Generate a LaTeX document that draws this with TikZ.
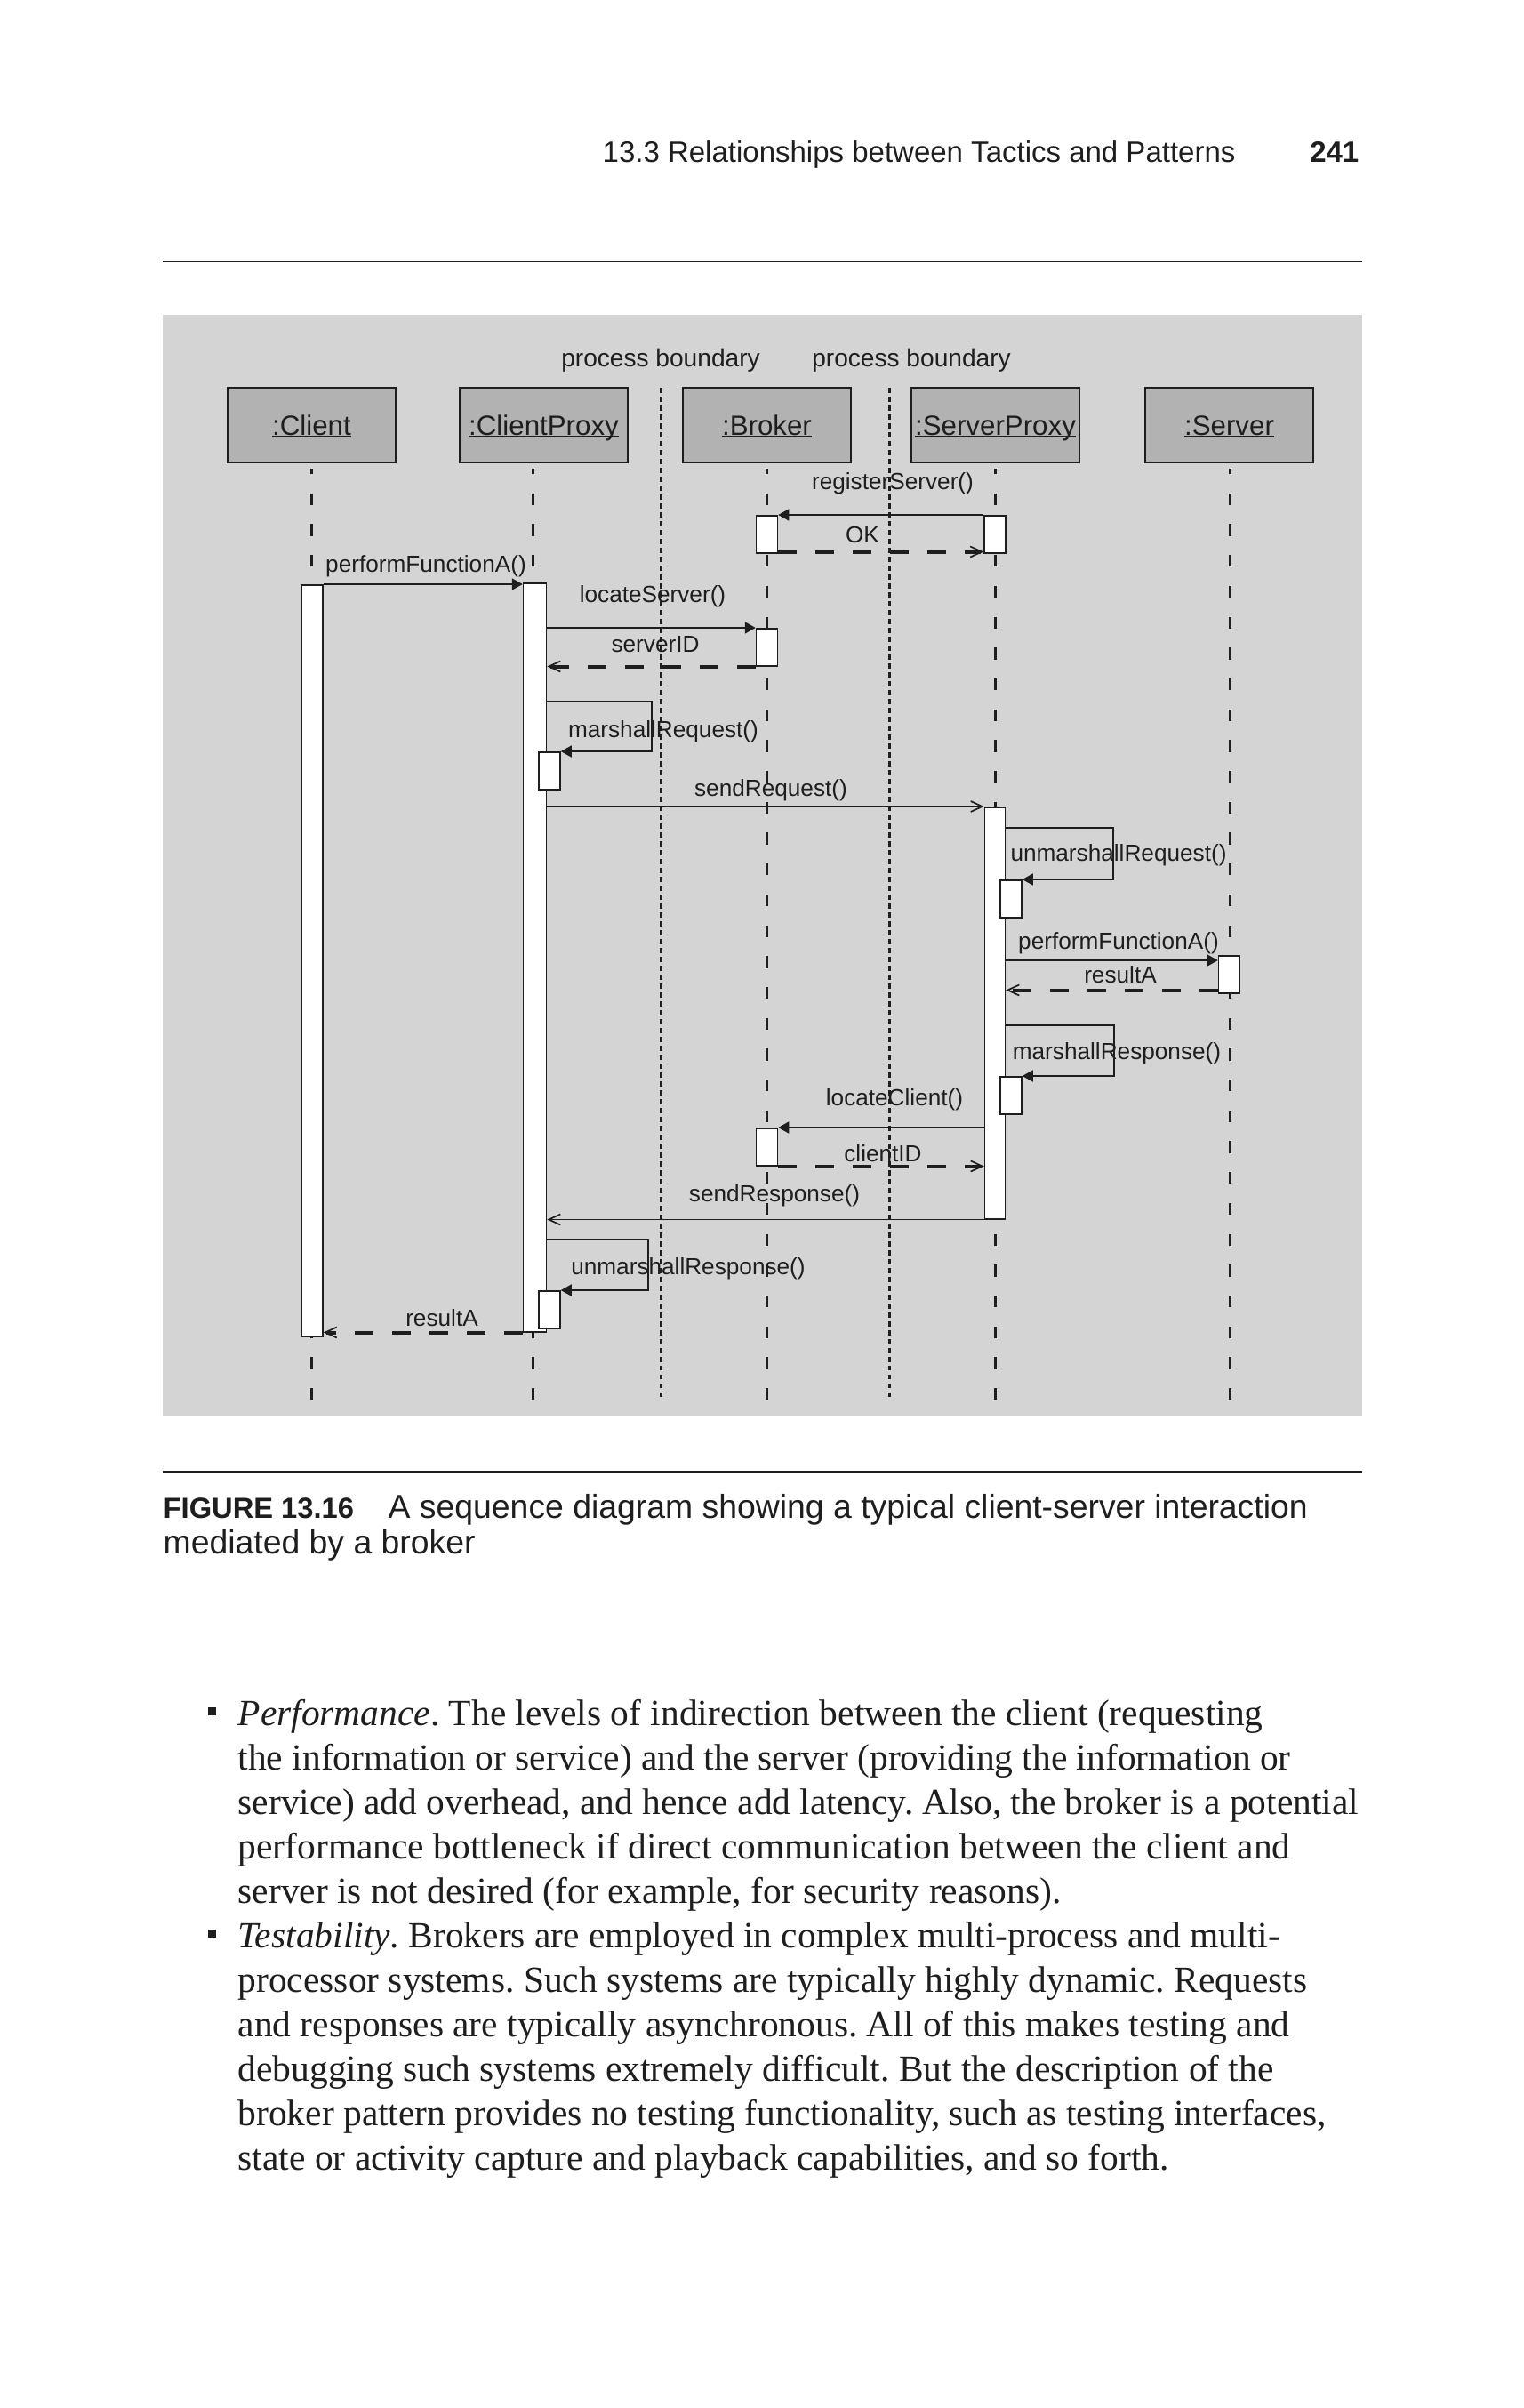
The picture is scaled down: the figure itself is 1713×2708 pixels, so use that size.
\documentclass[tikz,border=0pt]{standalone}
\usepackage{fontspec}
\setmainfont{Liberation Serif}
\setsansfont{Liberation Sans}
\usetikzlibrary{arrows.meta}
\definecolor{panel}{HTML}{D4D4D4}
\definecolor{objfill}{HTML}{B2B2B2}
\definecolor{ink}{HTML}{1E1E1E}
\tikzset{
  rule/.style={draw=ink, line width=0.2mm},
  obj/.style={draw=ink, fill=objfill, line width=0.2mm, minimum width=18.9mm, minimum height=8.4mm, inner sep=0pt, text height=2.3mm, text depth=0.1mm, text=ink, font=\sffamily\fontsize{8.9}{10}\selectfont},
  life/.style={draw=ink, line width=0.3mm, dash pattern=on 1.33mm off 2.14mm, dash phase=0.7mm},
  bound/.style={draw=ink, line width=0.3mm, dash pattern=on 0.55mm off 0.45mm},
  act/.style={draw=ink, fill=white, line width=0.15mm, minimum width=2.4mm, inner sep=0pt, anchor=north},
  call/.style={draw=ink, line width=0.17mm, -{Triangle[length=1.2mm,width=1.3mm]}},
  send/.style={draw=ink, line width=0.17mm, -{Straight Barb[length=1.3mm,width=1.2mm,line width=0.17mm]}},
  reply/.style={draw=ink, line width=0.4mm, dash pattern=on 2.1mm off 2.1mm, -{Straight Barb[length=1.3mm,width=1.2mm,line width=0.17mm]}},
  msg/.style={text=ink, inner sep=0pt, font=\sffamily\fontsize{7.45}{9}\selectfont},
  pb/.style={text=ink, inner sep=0pt, font=\sffamily\fontsize{8}{9}\selectfont},
  head/.style={text=ink, inner sep=0pt, anchor=base west, font=\sffamily\fontsize{9.39}{11}\selectfont},
  captext/.style={text=ink, inner sep=0pt, anchor=base west, font=\sffamily\fontsize{10.63}{12}\selectfont},
  body/.style={text=ink, inner sep=0pt, anchor=base west, font=\rmfamily\fontsize{11.8}{14.2}\selectfont\frenchspacing},
  bullet/.style={fill=ink, minimum size=0.9mm, inner sep=0pt}
}
% object name, underlined just below the baseline
\newcommand{\ulname}[1]{\setbox0\hbox{#1}\rlap{\copy0}\rule[-0.8pt]{\wd0}{0.45pt}}
\newcommand{\SelfCall}[3]{%
  % #1 = activation it leaves, #2 = far corner of the loop, #3 = nested activation
  \draw[call] (#1.east |- #2) -- (#2) |- (#3.north east);
}

\begin{document}
\begin{tikzpicture}[x=0.1mm, y=-0.1mm]
  \useasboundingbox (0,0) rectangle (1713,2708);
  \fill[white] (0,0) rectangle (1713,2708);

  % running head
  \node[head] (runhead) at (677,182) {13.3 Relationships between Tactics and Patterns};
  \node[head, anchor=base east, font=\sffamily\bfseries\fontsize{9.39}{11}\selectfont] (folio) at (1529,182) {241};
  \coordinate (ruleL) at (183,294);
  \coordinate (ruleR) at (1532,294);
  \draw[rule] (ruleL) -- (ruleR);

  % figure
  \fill[panel] (183,354) rectangle (1532,1592);
  \node[pb] (pbA) at (743,405) {process boundary};
  \node[pb] (pbB) at (1025,405) {process boundary};
  \draw[bound] (743,436) -- (743,1575);
  \draw[bound] (1000,436) -- (1000,1575);

  \draw[life] (350.5,527) -- (350.5,1575);
  \draw[life] (599,527) -- (599,1575);
  \draw[life] (862,527) -- (862,1575);
  \draw[life] (1119,527) -- (1119,1575);
  \draw[life] (1383,527) -- (1383,1575);

  \node[obj] (client) at (350.5,478) {\ulname{:Client}};
  \node[obj] (clientProxy) at (611.5,478) {\ulname{:ClientProxy}};
  \node[obj] (broker) at (862.5,478) {\ulname{:Broker}};
  \node[obj] (serverProxy) at (1119.5,478) {\ulname{:ServerProxy}};
  \node[obj] (server) at (1382.5,478) {\ulname{:Server}};

  \node[act, minimum height=84.5mm] (cA) at (351,657) {};
  \node[act, minimum height=84.2mm, minimum width=2.6mm] (cpA) at (601.5,655) {};
  \node[act, minimum height=4.2mm] (brA1) at (862.5,579) {};
  \node[act, minimum height=4.2mm] (spA1) at (1119,579) {};
  \node[act, minimum height=4.2mm] (brA2) at (862.5,706) {};
  \node[act, minimum height=4.2mm] (cpS1) at (618,845) {};
  \node[act, minimum height=46.3mm, minimum width=2.3mm] (spA2) at (1119,907) {};
  \node[act, minimum height=4.2mm] (spS1) at (1137,989) {};
  \node[act, minimum height=4.2mm] (sA) at (1382.5,1074) {};
  \node[act, minimum height=4.2mm] (spS2) at (1137,1210) {};
  \node[act, minimum height=4.2mm] (brA3) at (862.5,1268) {};
  \node[act, minimum height=4.2mm] (cpS2) at (618,1451) {};

  \coordinate (mrq) at (733,789);
  \coordinate (umq) at (1252,931);
  \coordinate (mrs) at (1253,1153);
  \coordinate (umr) at (729,1394);
  \coordinate (okEnd) at ([yshift=0.2mm]brA1.south east);
  \coordinate (pfB) at ([yshift=-0.6mm]sA.north west);
  \coordinate (raB) at ([yshift=0.4mm]sA.south west);

  \draw[call] (spA1.north west) -- (brA1.north east);
  \draw[reply] (okEnd) -- (spA1.west |- okEnd);
  \draw[call] (cA.north east) -- (cpA.west |- cA.north east);
  \draw[call] (cpA.east |- brA2.north) -- (brA2.north west);
  \draw[reply] (brA2.south west) -- (cpA.east |- brA2.south west);
  \SelfCall{cpA}{mrq}{cpS1}
  \draw[send] (cpA.east |- spA2.north) -- (spA2.north west);
  \SelfCall{spA2}{umq}{spS1}
  \draw[call] (spA2.east |- pfB) -- (pfB);
  \draw[reply] (raB) -- (spA2.east |- raB);
  \SelfCall{spA2}{mrs}{spS2}
  \draw[call] (spA2.west |- brA3.north) -- (brA3.north east);
  \draw[reply] (brA3.south east) -- (spA2.west |- brA3.south east);
  \draw[send] (spA2.south east) -- (cpA.east |- spA2.south);
  \SelfCall{cpA}{umr}{cpS2}
  \draw[reply] (cpA.south west) -- (cA.east |- cpA.south west);

  \node[msg] (mRegister) at (1004,544) {registerServer()};
  \node[msg] (mOK) at (970,601) {OK};
  \node[msg] (mPerform) at (479,637) {performFunctionA()};
  \node[msg] (mLocateS) at (734,671) {locateServer()};
  \node[msg] (mServerID) at (737,725) {serverID};
  \node[msg] (mMarshalReq) at (746,823) {marshallRequest()};
  \node[msg] (mSendReq) at (867,889) {sendRequest()};
  \node[msg] (mUnmarshalReq) at (1258,962) {unmarshallRequest()};
  \node[msg] (mPerformB) at (1258,1061) {performFunctionA()};
  \node[msg] (mResultB) at (1260,1096) {resultA};
  \node[msg] (mMarshalRes) at (1256,1185) {marshallResponse()};
  \node[msg] (mLocateC) at (1006,1237) {locateClient()};
  \node[msg] (mClientID) at (993,1297) {clientID};
  \node[msg] (mSendRes) at (871,1345) {sendResponse()};
  \node[msg] (mUnmarshalRes) at (774,1427) {unmarshallResponse()};
  \node[msg] (mResultA) at (497,1482) {resultA};

  % caption
  \coordinate (capL) at (183,1655);
  \coordinate (capR) at (1532,1655);
  \draw[rule] (capL) -- (capR);
  \node[captext, font=\sffamily\bfseries\fontsize{9.3}{11}\selectfont] (figNo) at (183,1707) {FIGURE 13.16};
  \node[captext] (capA) at (436,1707) {A sequence diagram showing a typical client-server interaction};
  \node[captext] (capB) at (183,1747) {mediated by a broker};

  % body text
  \node[bullet] (dotA) at (238,1924) {};
  \node[body] (bodyA) at (267,1940) {\textit{Performance}. The levels of indirection between the client (requesting};
  \node[body] (bodyB) at (267,1990) {the information or service) and the server (providing the information or};
  \node[body] (bodyC) at (267,2040) {service) add overhead, and hence add latency. Also, the broker is a potential};
  \node[body] (bodyD) at (267,2090) {performance bottleneck if direct communication between the client and};
  \node[body] (bodyE) at (267,2140) {server is not desired (for example, for security reasons).};
  \node[bullet] (dotB) at (238,2174) {};
  \node[body] (bodyF) at (267,2190) {\textit{Testability}. Brokers are employed in complex multi-process and multi-};
  \node[body] (bodyG) at (267,2240) {processor systems. Such systems are typically highly dynamic. Requests};
  \node[body] (bodyH) at (267,2290) {and responses are typically asynchronous. All of this makes testing and};
  \node[body] (bodyI) at (267,2340) {debugging such systems extremely difficult. But the description of the};
  \node[body] (bodyJ) at (267,2390) {broker pattern provides no testing functionality, such as testing interfaces,};
  \node[body] (bodyK) at (267,2440) {state or activity capture and playback capabilities, and so forth.};
\end{tikzpicture}
\end{document}
